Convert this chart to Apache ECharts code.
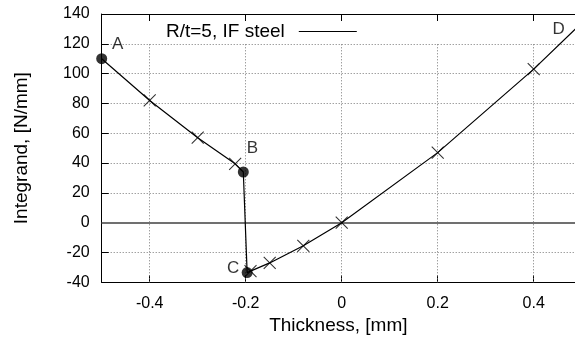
<!DOCTYPE html>
<html><head><meta charset="utf-8">
<script src="https://cdn.jsdelivr.net/npm/echarts@6/dist/echarts.min.js"></script>
<style>html,body{margin:0;padding:0;background:#fff}#c{width:575px;height:343px}</style>
</head><body><div id="c"></div>
<script>
// ---- data ----
const seriesName = 'R/t=5, IF steel';
const curveX = [-0.5, -0.4, -0.3, -0.222, -0.205, -0.197, -0.19, -0.15, -0.08, 0, 0.2, 0.4, 0.5];
const curveY = [110, 82, 57, 39.5, 34, -33.5, -32.5, -27, -15.5, 0, 47, 103, 134];
const crossX = [-0.4, -0.3, -0.222, -0.19, -0.15, -0.08, 0, 0.2, 0.4];
const crossY = [82, 57, 39.5, -32.5, -27, -15.5, 0, 47, 103];
const circleX = [-0.5, -0.205, -0.197];
const circleY = [110, 34, -33.5];
const pointNames = ['A', 'B', 'C', 'D'];
const pointX = [-0.5, -0.205, -0.197, 0.5];
const pointY = [110, 34, -33.5, 134];
const xTicks = [-0.4, -0.2, 0, 0.2, 0.4];
const xMin = -0.5, xMax = 0.486;   // right part of the frame is cut off in the picture
const yMin = -40, yMax = 140, yStep = 20;
const xGridTop = 120;
const xTitle = 'Thickness, [mm]';
const yTitle = 'Integrand, [N/mm]';

// ---- styling ----
const FONT = '"Liberation Sans", Arial, sans-serif';
const labelOffsets = { A: [16, -14], B: [9, -24], C: [-14, -4], D: [-23, 6.5] };
const gridDot = { type: [1, 2], color: '#777', width: 1 };
const zip = (xs, ys) => xs.map((x, i) => [x, ys[i]]);

const chart = echarts.init(document.getElementById('c'), null, { renderer: 'canvas' });
chart.setOption({
  animation: false,
  backgroundColor: '#fff',
  grid: { left: 101.7, right: 0, top: 14, bottom: 60.7, containLabel: false },
  legend: {
    data: [seriesName], left: 166, top: 22, padding: 0, align: 'right',
    icon: 'rect', itemWidth: 58, itemHeight: 1.2,
    textStyle: { fontFamily: FONT, fontSize: 19, color: '#000', padding: [0, 9, 0, 0] }
  },
  xAxis: [{
    type: 'value', min: xMin, max: xMax, position: 'bottom',
    name: xTitle, nameLocation: 'middle', nameGap: 34,
    nameTextStyle: { fontFamily: FONT, fontSize: 19, color: '#000' },
    axisLine: { show: true, onZero: false, lineStyle: { color: '#000', width: 1 } },
    axisTick: { show: true, inside: true, length: 7, customValues: xTicks, lineStyle: { color: '#000' } },
    axisLabel: { show: true, customValues: xTicks, margin: 13, fontFamily: FONT, fontSize: 16, color: '#000' },
    splitLine: { show: false }
  }, {
    type: 'value', min: xMin, max: xMax, position: 'top',
    axisLine: { show: true, onZero: false, lineStyle: { color: '#000', width: 1 } },
    axisTick: { show: true, inside: true, length: 7, customValues: xTicks, lineStyle: { color: '#000' } },
    axisLabel: { show: false },
    splitLine: { show: false }
  }],
  yAxis: {
    type: 'value', min: yMin, max: yMax, interval: yStep,
    name: yTitle, nameLocation: 'middle', nameGap: 70,
    nameTextStyle: { fontFamily: FONT, fontSize: 19, color: '#000' },
    axisLine: { show: true, onZero: false, lineStyle: { color: '#000', width: 1 } },
    axisTick: { show: true, inside: true, length: 7, lineStyle: { color: '#000' } },
    axisLabel: { margin: 12, fontFamily: FONT, fontSize: 16, color: '#000' },
    splitLine: { show: true, lineStyle: gridDot }
  },
  series: [{
    type: 'line', name: 'grid', silent: true, data: [], symbol: 'none',
    markLine: {
      silent: true, symbol: 'none', label: { show: false }, animation: false,
      data: xTicks.map(x => [{ coord: [x, yMin], lineStyle: gridDot }, { coord: [x, xGridTop] }])
        .concat([[{ coord: [xMin, 0], lineStyle: { type: 'solid', color: '#707070', width: 2 } }, { coord: [xMax, 0] }]])
    }
  }, {
    type: 'line', name: seriesName, data: zip(curveX, curveY), symbol: 'none',
    lineStyle: { color: '#000', width: 1.2 }, itemStyle: { color: '#000' }, z: 5
  }, {
    type: 'scatter', name: 'crosses', data: zip(crossX, crossY),
    symbol: 'path://M0,0L10,10M10,0L0,10', symbolSize: 12,
    itemStyle: { color: 'none', borderColor: '#000', borderWidth: 1.1 }, z: 6
  }, {
    type: 'scatter', name: 'circles', data: zip(circleX, circleY),
    symbol: 'circle', symbolSize: 11, itemStyle: { color: '#000' }, z: 7
  }, {
    type: 'scatter', name: 'labels', symbolSize: 1, clip: false,
    itemStyle: { color: 'rgba(0,0,0,0)' }, z: 8,
    data: pointNames.map((n, i) => ({
      name: n, value: [pointX[i], pointY[i]],
      label: { show: true, formatter: '{b}', position: 'inside', offset: labelOffsets[n],
        fontFamily: FONT, fontSize: 17, color: '#000' }
    }))
  }]
});
</script></body></html>
